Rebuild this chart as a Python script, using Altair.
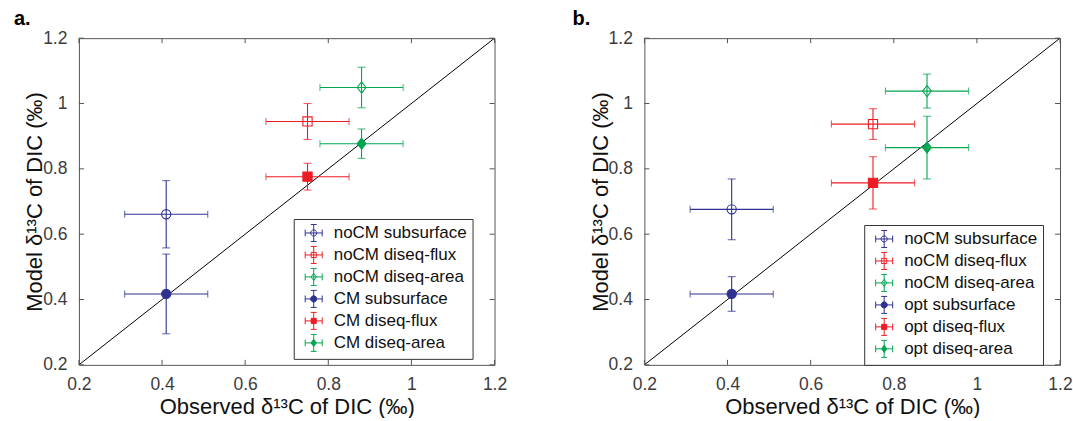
import altair as alt
import pandas as pd

# Observed δ13C of DIC (‰) with its uncertainty; the same for both panels
obs = [0.41, 0.75, 0.88, 0.41, 0.75, 0.88]
obs_err = [0.10, 0.10, 0.10, 0.10, 0.10, 0.10]

# Panel a: model without / with CM
labels_a = ["noCM subsurface", "noCM diseq-flux", "noCM diseq-area",
            "CM subsurface", "CM diseq-flux", "CM diseq-area"]
model_a = [0.661, 0.945, 1.049, 0.417, 0.776, 0.877]
model_a_err = [0.103, 0.055, 0.062, 0.122, 0.041, 0.045]

# Panel b: model without CM / optimised
labels_b = ["noCM subsurface", "noCM diseq-flux", "noCM diseq-area",
            "opt subsurface", "opt diseq-flux", "opt diseq-area"]
model_b = [0.676, 0.937, 1.038, 0.417, 0.757, 0.865]
model_b_err = [0.093, 0.047, 0.052, 0.053, 0.080, 0.096]

axis_ticks = [0.2, 0.4, 0.6, 0.8, 1.0, 1.2]
one_to_one = [0.2, 1.2]

# ---- styling -------------------------------------------------------------
FONT = "Liberation Sans"
BLUE, RED, GREEN = "#2e3192", "#ed1c24", "#00a651"
W, H = 416, 327
colors = [BLUE, RED, GREEN, BLUE, RED, GREEN]
fills = ["transparent"] * 3 + colors[3:]
diamond = "M0,-1.2L0.95,0L0,1.2L-0.95,0Z"
markers = ["circle", "square", diamond] * 2

# legend glyph: error cross with caps plus a small marker in the middle
cross = "M-1,0H1M0,-1V1M-1,-0.4V0.4M1,-0.4V0.4M-0.35,-1H0.35M-0.35,1H0.35"
small_marks = [
    "M0.36,0A0.36,0.36 0 1,1 -0.36,0A0.36,0.36 0 1,1 0.36,0Z",
    "M-0.3,-0.3H0.3V0.3H-0.3Z",
    "M0,-0.42L0.32,0L0,0.42L-0.32,0Z",
]
legend_glyphs = [cross + m for m in small_marks] * 2

xscale = alt.Scale(domain=[0.2, 1.2], nice=False, zero=False)
yscale = alt.Scale(domain=[0.2, 1.2], nice=False, zero=False)
xaxis = alt.Axis(values=axis_ticks, format=".1~f", title="Observed δ¹³C of DIC (‰)")
yaxis = alt.Axis(values=axis_ticks, format=".1~f", title="Model δ¹³C of DIC (‰)")


def X(field):
    return alt.X(field, scale=xscale, axis=xaxis)


def Y(field):
    return alt.Y(field, scale=yscale, axis=yaxis)


def panel(labels, model, model_err, tag, tag_dx, legend_x, legend_y):
    df = pd.DataFrame({
        "series": labels,
        "obs": obs,
        "obs_lo": [o - e for o, e in zip(obs, obs_err)],
        "obs_hi": [o + e for o, e in zip(obs, obs_err)],
        "mod": model,
        "mod_lo": [m - e for m, e in zip(model, model_err)],
        "mod_hi": [m + e for m, e in zip(model, model_err)],
    })
    base = alt.Chart(df)
    col = alt.Color("series:N", scale=alt.Scale(domain=labels, range=colors), legend=None)

    diag = alt.Chart(pd.DataFrame({"v": one_to_one})).mark_line(
        color="black", strokeWidth=1, clip=True
    ).encode(x=X("v:Q"), y=Y("v:Q"))

    # inward-pointing ticks on all four sides of the box
    tick_df = alt.Chart(pd.DataFrame({"t": axis_ticks}))
    frame_rule = dict(color="#555555", strokeWidth=1)
    ticks_bottom = tick_df.mark_rule(**frame_rule).encode(
        x=X("t:Q"), y=alt.value(H), y2=alt.value(H - 5))
    ticks_top = tick_df.mark_rule(**frame_rule).encode(
        x=X("t:Q"), y=alt.value(0), y2=alt.value(5))
    ticks_left = tick_df.mark_rule(**frame_rule).encode(
        y=Y("t:Q"), x=alt.value(0), x2=alt.value(5))
    ticks_right = tick_df.mark_rule(**frame_rule).encode(
        y=Y("t:Q"), x=alt.value(W), x2=alt.value(W - 5))

    # error bars with end caps
    hbar = base.mark_rule(strokeWidth=1.1).encode(
        x=X("obs_lo:Q"), x2="obs_hi:Q", y=Y("mod:Q"), color=col)
    vbar = base.mark_rule(strokeWidth=1.1).encode(
        x=X("obs:Q"), y=Y("mod_lo:Q"), y2="mod_hi:Q", color=col)
    cap_l = base.mark_tick(orient="vertical", size=7, thickness=1.1).encode(
        x=X("obs_lo:Q"), y=Y("mod:Q"), color=col)
    cap_r = base.mark_tick(orient="vertical", size=7, thickness=1.1).encode(
        x=X("obs_hi:Q"), y=Y("mod:Q"), color=col)
    cap_b = base.mark_tick(orient="horizontal", size=8, thickness=1.1).encode(
        x=X("obs:Q"), y=Y("mod_lo:Q"), color=col)
    cap_t = base.mark_tick(orient="horizontal", size=8, thickness=1.1).encode(
        x=X("obs:Q"), y=Y("mod_hi:Q"), color=col)

    points = base.mark_point(size=85, strokeWidth=1.1, opacity=1).encode(
        x=X("obs:Q"), y=Y("mod:Q"),
        shape=alt.Shape("series:N", scale=alt.Scale(domain=labels, range=markers), legend=None),
        fill=alt.Fill("series:N", scale=alt.Scale(domain=labels, range=fills), legend=None),
        stroke=alt.Stroke("series:N", scale=alt.Scale(domain=labels, range=colors), legend=None),
    )

    leg = alt.Legend(
        title=None, orient="none", legendX=legend_x, legendY=legend_y,
        padding=5, symbolOffset=6, labelOffset=11, rowPadding=0,
        symbolSize=289, symbolStrokeWidth=1, symbolOpacity=1,
        labelFont=FONT, labelFontSize=17, labelColor="#111111", labelLimit=300,
        labelExpr="datum.label + '\u00a0\u00a0\u00a0\u00a0'",
        strokeColor="#333333", fillColor="white",
    )
    legend_layer = base.mark_point(size=289, strokeWidth=1).encode(
        x=X("obs:Q"), y=Y("mod:Q"),
        shape=alt.Shape("series:N", scale=alt.Scale(domain=labels, range=legend_glyphs), legend=leg),
        fill=alt.Fill("series:N", scale=alt.Scale(domain=labels, range=fills), legend=leg),
        stroke=alt.Stroke("series:N", scale=alt.Scale(domain=labels, range=colors), legend=leg),
    ).transform_filter("false")

    return alt.layer(
        diag, ticks_bottom, ticks_top, ticks_left, ticks_right,
        hbar, vbar, cap_l, cap_r, cap_b, cap_t, points, legend_layer,
    ).resolve_scale(
        shape="independent", fill="independent", stroke="independent"
    ).properties(
        width=W, height=H,
        title=alt.TitleParams(tag, anchor="start", frame="group", dx=tag_dx, offset=0,
                              fontSize=20, fontWeight="bold", font=FONT, color="black"),
    )


chart = alt.hconcat(
    panel(labels_a, model_a, model_a_err, "a.", -65, 215, 181),
    panel(labels_b, model_b, model_b_err, "b.", -72, 220, 187),
    spacing=64,
).resolve_scale(
    shape="independent", fill="independent", stroke="independent", color="independent"
).resolve_legend(
    shape="independent", fill="independent", stroke="independent"
).properties(
    padding={"left": 13, "top": 8, "right": 0, "bottom": 0},
    background="white",
).configure_view(
    stroke="#555555", strokeWidth=1
).configure_axis(
    domain=False, ticks=False, grid=False, labelFlush=False,
    labelFont=FONT, labelFontSize=17.5, labelColor="#3c3c3c", labelPadding=11,
    titleFont=FONT, titleFontSize=22, titleColor="#111111", titleFontWeight="normal",
).configure_axisX(
    titlePadding=3,
).configure_axisY(
    titlePadding=-4, labelPadding=12,
)

chart.save("out.html", embed_options={"renderer": "svg", "actions": False})
